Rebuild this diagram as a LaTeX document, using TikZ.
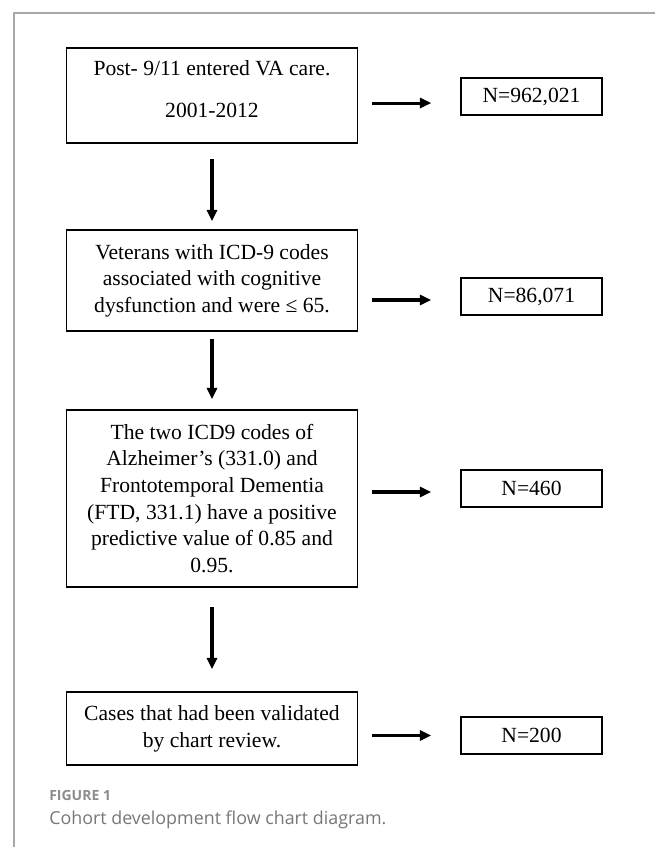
\documentclass[tikz,border=0pt]{standalone}
\usepackage{fontspec}
\setmainfont{Liberation Serif}
\newfontfamily\captionfont{Open Sans}
\usetikzlibrary{arrows.meta}
\definecolor{framegray}{HTML}{A8A8A8}
\definecolor{labelgray}{HTML}{8C8C8C}
\definecolor{captiongray}{HTML}{777777}

\begin{document}
\begin{tikzpicture}[x=0.75pt, y=-0.75pt,
	stage/.style={draw, line width=1.1pt, minimum width=218.25pt, inner sep=0pt, align=center, font=\fontsize{16.2pt}{20pt}\selectfont},
	count/.style={draw, line width=1.1pt, minimum width=105.75pt, minimum height=27.75pt, inner sep=0pt, font=\fontsize{16.2pt}{20pt}\selectfont},
	flow/.style={line width=2.3pt, -{Triangle[length=8.5pt, width=7.5pt]}}]
	\useasboundingbox (0,0) rectangle (655,847);
	% Rahmen
	\draw[framegray, line width=1.5pt] (655,13) -- (14,13) -- (14,847);
	% Stufen
	\node[stage, minimum height=71.25pt] (post) at (212,95.5) {Post- 9/11 entered VA care.\\[11.5pt]2001-2012\\[-10.25pt]\mbox{}};
	\node[stage, minimum height=75.75pt] (veterans) at (212,280.5) {Veterans with ICD-9 codes\\associated with cognitive\\dysfunction and were ≤ 65.};
	\node[stage, minimum height=132.75pt] (icd) at (212,498.5) {The two ICD9 codes of\\Alzheimer’s (331.0) and\\Frontotemporal Dementia\\(FTD, 331.1) have a positive\\predictive value of 0.85 and\\0.95.};
	\node[stage, minimum height=54.75pt] (cases) at (212,728.5) {Cases that had been validated\\by chart review.};
	% Anzahlen
	\node[count] (npost) at (531.5,96.5) {N=962,021};
	\node[count] (nveterans) at (531.5,296.5) {N=86,071};
	\node[count] (nicd) at (531.5,488.5) {N=460};
	\node[count] (ncases) at (531.5,735.5) {N=200};
	% Pfeilenden rechts
	\coordinate (tpost) at ([yshift=-4.9pt]npost.west);
	\coordinate (tveterans) at ([yshift=-2.6pt]nveterans.west);
	\coordinate (ticd) at ([yshift=-2.6pt]nicd.west);
	\coordinate (tcases) at (ncases.west);
	% Pfeile nach unten
	\draw[flow, shorten <=11.25pt, shorten >=6pt] (post) -- (veterans);
	\draw[flow, shorten <=5.25pt, shorten >=7.5pt] (veterans) -- (icd);
	\draw[flow, shorten <=14.25pt, shorten >=16.5pt] (icd) -- (cases);
	% Pfeile nach rechts
	\draw[flow, shorten <=10.5pt, shorten >=21.75pt] (post.east |- tpost) -- (tpost);
	\draw[flow, shorten <=10.5pt, shorten >=21.75pt] (veterans.east |- tveterans) -- (tveterans);
	\draw[flow, shorten <=10.5pt, shorten >=21.75pt] (icd.east |- ticd) -- (ticd);
	\draw[flow, shorten <=10.5pt, shorten >=21.75pt] (cases.east |- tcases) -- (tcases);
	% Bildunterschrift
	\node[anchor=west, inner sep=0pt, text=labelgray, font=\captionfont\bfseries\fontsize{10.5pt}{12pt}\selectfont] (figlabel) at (49,795) {FIGURE 1};
	\node[anchor=west, inner sep=0pt, text=captiongray, font=\captionfont\fontsize{13.4pt}{16pt}\selectfont] (figcaption) at (49,820) {Cohort development flow chart diagram.};
\end{tikzpicture}
\end{document}
